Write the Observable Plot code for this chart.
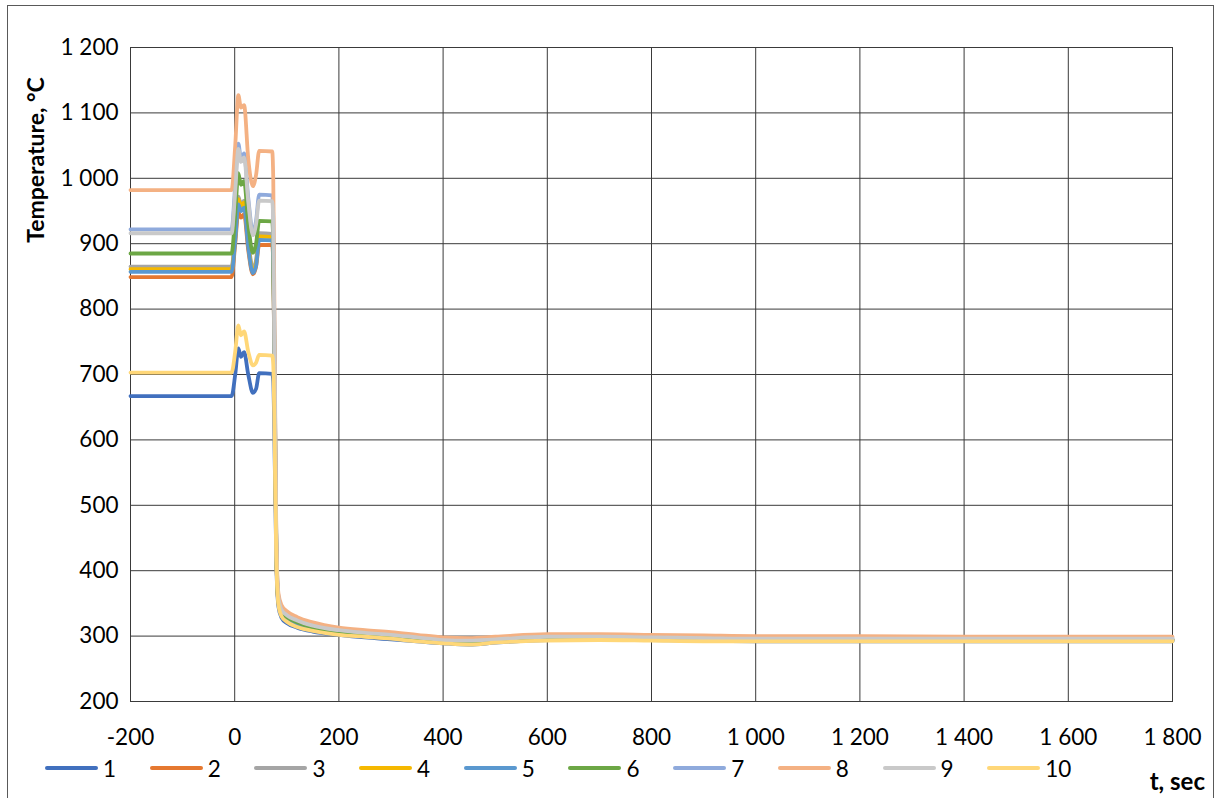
<!DOCTYPE html>
<html>
<head>
<meta charset="utf-8">
<script src="https://cdn.jsdelivr.net/npm/d3@7"></script>
<script src="https://cdn.jsdelivr.net/npm/@observablehq/plot@0.6"></script>
<style>
  body { margin: 0; background: #fff; overflow: hidden; font-family: Lato, "Open Sans", sans-serif; }
  #wrap { position: relative; width: 1223px; height: 798px; }
  #border { position: absolute; left: 7px; top: 5px; width: 1207px; height: 900px; border: 1px solid #595959; box-sizing: border-box; pointer-events: none; }
  #plot { position: absolute; left: 0; top: 0; }
  #ytitle { position: absolute; left: 35px; top: 160px; transform: translate(-50%, -50%) rotate(-90deg); white-space: nowrap; font-weight: bold; font-size: 23px; color: #000; }
  #xtitle { position: absolute; right: 18px; top: 766px; font-weight: bold; font-size: 24px; color: #000; white-space: nowrap; }
  #legend { position: absolute; left: 45px; top: 756px; height: 24px; display: flex; align-items: center; }
  .item { display: flex; align-items: center; width: 104.7px; }
  .swatch { width: 53px; height: 3.5px; border-radius: 2px; }
  .lab { margin-left: 5px; font-size: 22.5px; color: #000; }
</style>
</head>
<body>
<div id="wrap">
  <div id="plot"></div>
  <div id="border"></div>
  <div id="ytitle">Temperature, °C</div>
  <div id="xtitle">t, sec</div>
  <div id="legend"></div>
</div>
<script>
// Time points (s) shared by all series
const times = [-200, -6, 1, 7, 12, 18, 26, 35, 41, 47, 72, 74, 77, 80, 84, 90, 100, 120, 150, 200, 250, 300, 350, 400, 450, 500, 600, 700, 800, 900, 1000, 1200, 1400, 1600, 1800];

// Temperature series (°C)
const s1  = [667, 667, 700, 740, 727, 734, 700, 672, 678, 702, 701, 690, 560, 410, 345, 328, 320, 313, 307, 302, 298, 295, 292, 289, 287, 290, 294, 294, 294, 293, 292, 292, 292, 292, 292];
const s2  = [849, 849, 900, 948, 940, 945, 890, 853, 865, 898, 898, 870, 650, 420, 350, 333, 325, 318, 311, 305, 302, 299, 295, 292, 290, 293, 297, 297, 296, 295, 294, 294, 294, 294, 294];
const s3  = [865, 865, 915, 972, 960, 966, 905, 862, 875, 916, 915, 885, 660, 425, 352, 336, 328, 320, 313, 307, 303, 300, 296, 293, 291, 294, 298, 298, 297, 296, 295, 295, 295, 295, 295];
const s4  = [861, 861, 910, 968, 958, 963, 900, 858, 870, 911, 910, 880, 655, 422, 351, 334, 326, 319, 312, 306, 302, 299, 295, 292, 290, 293, 297, 297, 296, 295, 294, 294, 294, 294, 294];
const s5  = [857, 857, 905, 960, 950, 955, 895, 855, 866, 906, 905, 875, 652, 421, 350, 333, 325, 318, 311, 305, 301, 298, 294, 291, 289, 292, 296, 296, 295, 294, 293, 293, 293, 293, 293];
const s6  = [885, 885, 945, 1008, 990, 996, 930, 886, 900, 935, 934, 900, 670, 428, 354, 337, 329, 321, 313, 306, 302, 299, 295, 292, 290, 293, 297, 297, 296, 295, 295, 295, 295, 295, 295];
const s7  = [922, 922, 990, 1053, 1030, 1038, 970, 918, 935, 975, 974, 940, 690, 435, 360, 342, 334, 326, 318, 310, 306, 303, 299, 295, 294, 296, 300, 300, 299, 298, 297, 297, 297, 297, 297];
const s8  = [982, 982, 1050, 1127, 1108, 1112, 1030, 988, 1005, 1042, 1041, 1000, 720, 445, 365, 347, 338, 329, 321, 313, 309, 306, 302, 298, 297, 299, 303, 303, 302, 301, 300, 300, 299, 299, 299];
const s9  = [916, 916, 980, 1045, 1025, 1032, 965, 913, 930, 966, 965, 935, 688, 433, 358, 340, 332, 324, 316, 309, 305, 302, 298, 294, 293, 295, 299, 299, 298, 297, 296, 296, 296, 296, 296];
const s10 = [703, 703, 735, 775, 760, 766, 735, 714, 718, 730, 729, 715, 580, 415, 348, 330, 322, 314, 308, 302, 299, 296, 292, 289, 287, 290, 293, 294, 293, 292, 292, 292, 292, 292, 292];

const seriesNames = ["1", "2", "3", "4", "5", "6", "7", "8", "9", "10"];
const seriesValues = [s1, s2, s3, s4, s5, s6, s7, s8, s9, s10];
const colors = ["#4170BE", "#E57830", "#A5A5A5", "#F5B800", "#5A98CF", "#6CA745", "#8FAADC", "#F4B183", "#C9C9C9", "#FFD778"];

const xTicks = [-200, 0, 200, 400, 600, 800, 1000, 1200, 1400, 1600, 1800];
const yTicks = [200, 300, 400, 500, 600, 700, 800, 900, 1000, 1100, 1200];

const rows = [];
seriesValues.forEach((vals, i) => {
  vals.forEach((v, j) => rows.push({series: seriesNames[i], t: times[j], T: v}));
});

const fmt = d => d3.format(",")(d).replace(/,/g, " ").replace(/\u2212/g, "-");
const gridColor = "#3a3a3a";

const chart = Plot.plot({
  width: 1223,
  height: 756,
  marginLeft: 130,
  marginRight: 51,
  marginTop: 47,
  marginBottom: 55,
  style: { fontFamily: "Lato, 'Open Sans', sans-serif", fontSize: "22.5px", color: "#000", background: "transparent", overflow: "visible" },
  x: { domain: [-200, 1800] },
  y: { domain: [200, 1200] },
  color: { domain: seriesNames, range: colors },
  marks: [
    Plot.gridX(xTicks, { stroke: gridColor, strokeOpacity: 1, strokeWidth: 1 }),
    Plot.gridY(yTicks, { stroke: gridColor, strokeOpacity: 1, strokeWidth: 1 }),
    Plot.frame({ stroke: gridColor, strokeWidth: 1 }),
    Plot.axisX(xTicks, { tickSize: 0, tickPadding: 28, tickFormat: fmt, label: null, fontSize: 22.5 }),
    Plot.axisY(yTicks, { tickSize: 0, tickPadding: 12, tickFormat: fmt, label: null, fontSize: 22.5 }),
    Plot.line(rows, { x: "t", y: "T", z: "series", stroke: "series", strokeWidth: 3.8, curve: "monotone-x", strokeLinejoin: "round", strokeLinecap: "round" })
  ]
});
document.getElementById("plot").appendChild(chart);

const legend = document.getElementById("legend");
seriesNames.forEach((name, i) => {
  const item = document.createElement("div");
  item.className = "item";
  const sw = document.createElement("div");
  sw.className = "swatch";
  sw.style.background = colors[i];
  const lab = document.createElement("span");
  lab.className = "lab";
  lab.textContent = name;
  item.appendChild(sw);
  item.appendChild(lab);
  legend.appendChild(item);
});
</script>
</body>
</html>
